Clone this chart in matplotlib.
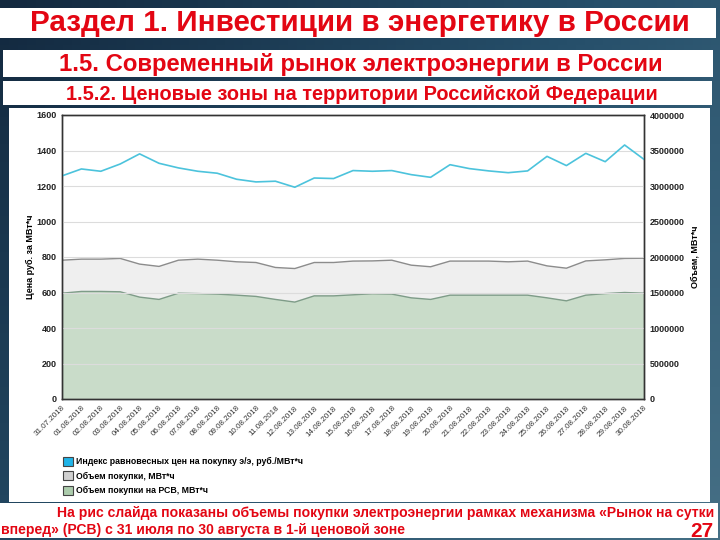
"""Slide: price zones, RSV volumes and price index, 31.07-30.08.2018"""
import numpy as np
import matplotlib
matplotlib.use("Agg")
import matplotlib.pyplot as plt
from matplotlib.patches import Rectangle, Patch
from matplotlib.colors import LinearSegmentedColormap
from matplotlib.ticker import FuncFormatter

plt.rcParams['font.family'] = ['Liberation Sans', 'DejaVu Sans']

dates = ["31.07.2018", "01.08.2018", "02.08.2018", "03.08.2018", "04.08.2018",
         "05.08.2018", "06.08.2018", "07.08.2018", "08.08.2018", "09.08.2018",
         "10.08.2018", "11.08.2018", "12.08.2018", "13.08.2018", "14.08.2018",
         "15.08.2018", "16.08.2018", "17.08.2018", "18.08.2018", "19.08.2018",
         "20.08.2018", "21.08.2018", "22.08.2018", "23.08.2018", "24.08.2018",
         "25.08.2018", "26.08.2018", "27.08.2018", "28.08.2018", "29.08.2018",
         "30.08.2018"]

# price index, rub/MWh (left axis)
price = [1257, 1296, 1283, 1324, 1381, 1328, 1302, 1283, 1272, 1238, 1223,
         1227, 1193, 1245, 1242, 1287, 1283, 1287, 1264, 1249, 1320, 1298,
         1285, 1275, 1285, 1367, 1315, 1384, 1337, 1431, 1350]

# total purchase volume, MWh (right axis)
volume_total = [1955000, 1970000, 1970000, 1980000, 1900000, 1867500, 1955000,
                1970000, 1955000, 1932500, 1922500, 1852500, 1837500, 1922500,
                1922500, 1942500, 1945000, 1955000, 1885000, 1862500, 1942500,
                1942500, 1942500, 1932500, 1942500, 1875000, 1842500, 1945000,
                1960000, 1980000, 1982500]

# purchase volume on RSV, MWh (right axis)
volume_rsv = [1490000, 1515000, 1515000, 1510000, 1435000, 1402500, 1490000,
              1485000, 1477500, 1462500, 1445000, 1402500, 1365000, 1452500,
              1452500, 1467500, 1482500, 1477500, 1425000, 1402500, 1462500,
              1462500, 1462500, 1462500, 1462500, 1425000, 1382500, 1462500,
              1485000, 1500000, 1490000]

left_ticks = [0, 200, 400, 600, 800, 1000, 1200, 1400, 1600]
right_ticks = [0, 500000, 1000000, 1500000, 2000000, 2500000, 3000000,
               3500000, 4000000]

legend_labels = ["Индекс равновесных цен на покупку э/э, руб./МВт*ч",
                 "Объем покупки, МВт*ч",
                 "Объем покупки на РСВ, МВт*ч"]

RED = '#e30613'
W, H = 720, 540


def px_rect(x0, y0, x1, y1):
    """Axes rect from pixel box (top-left origin)"""
    return [x0 / W, 1 - y1 / H, (x1 - x0) / W, (y1 - y0) / H]


fig = plt.figure(figsize=(7.2, 5.4), dpi=100)

# slide background and white bars
bg = fig.add_axes([0, 0, 1, 1])
bg.set_xlim(0, W)
bg.set_ylim(H, 0)
bg.axis('off')
cmap = LinearSegmentedColormap.from_list('slide', ['#13293f', '#264f6a', '#456f85'])
yy, xx = np.mgrid[0:1:60j, 0:1:80j]
bg.imshow(0.6 * xx + 0.4 * yy, extent=(0, W, H, 0), cmap=cmap, aspect='auto')

for box in [(0, 8, 716, 38), (3, 50, 713, 77), (3, 81, 712, 105),
            (9, 108, 710, 502), (0, 503, 718, 538)]:
    bg.add_patch(Rectangle((box[0], box[1]), box[2] - box[0], box[3] - box[1],
                           facecolor='white', edgecolor='none'))

bg.text(360, 23, "Раздел 1. Инвестиции в энергетику в России", color=RED,
        fontsize=21.3, fontweight='bold', ha='center', va='center')
bg.text(361, 64, "1.5. Современный рынок электроэнергии в России", color=RED,
        fontsize=17.2, fontweight='bold', ha='center', va='center')
bg.text(362, 94, "1.5.2. Ценовые зоны на территории Российской Федерации",
        color=RED, fontsize=14.4, fontweight='bold', ha='center', va='center')
bg.text(57, 513, "На рис слайда показаны объемы покупки электроэнергии "
        "рамках механизма «Рынок на сутки", color=RED, fontsize=10.1,
        fontweight='bold', ha='left', va='center')
bg.text(1, 530, "вперед» (РСВ) с 31 июля по 30 августа в 1-й ценовой зоне",
        color=RED, fontsize=10.1, fontweight='bold', ha='left', va='center')
bg.text(713, 537, "27", color=RED, fontsize=15, fontweight='bold',
        ha='right', va='baseline')

# chart: volumes behind, price on top
x = np.arange(len(dates))
ax2 = fig.add_axes(px_rect(62, 115, 644, 399))
ax = ax2.twinx()
ax.set_zorder(ax2.get_zorder() + 1)
ax.patch.set_visible(False)

ax2.fill_between(x, 0, volume_total, facecolor='#efefef', edgecolor='none')
ax2.plot(x, volume_total, color='#8c8c8c', lw=1)
ax2.fill_between(x, 0, volume_rsv, facecolor='#c9dcc9', edgecolor='none')
ax2.plot(x, volume_rsv, color='#7e9c88', lw=1)
ax2.set_ylim(0, 4000000)
ax2.set_yticks(right_ticks)
ax2.yaxis.tick_right()
ax2.yaxis.set_label_position('right')
ax2.yaxis.set_major_formatter(FuncFormatter(lambda v, p: '%d' % v))
ax2.set_ylabel("Объем, МВт*ч", fontsize=6.5, fontweight='bold', labelpad=4)

ax.plot(x, price, color='#4cc3dc', lw=1.2)
ax.set_ylim(0, 1600)
ax.set_yticks(left_ticks)
ax.yaxis.tick_left()
ax.yaxis.set_label_position('left')
ax.set_ylabel("Цена руб. за МВт*ч", fontsize=6.5, fontweight='bold', labelpad=1)
ax.grid(True, color='#dcdcdc', lw=0.8)

ax2.set_xlim(x[0], x[-1])
ax2.set_xticks(x)
ax2.set_xticklabels(dates, rotation=45, ha='right', rotation_mode='anchor',
                    fontsize=5.8, color='#333333')
ax.set_xticks(x)

for a in (ax, ax2):
    a.tick_params(length=0, pad=4)
    for s in a.spines.values():
        s.set_color('#333333')
        s.set_linewidth(1)
for lbl in ax.get_yticklabels() + ax2.get_yticklabels():
    lbl.set_fontsize(6.5)
    lbl.set_fontweight('bold')
    lbl.set_color('#222222')

handles = [Patch(facecolor=c, edgecolor='#444444', lw=0.8)
           for c in ['#1fb4e8', '#d0d0d0', '#acccac']]
leg = fig.legend(handles, legend_labels, loc='upper left',
                 bbox_to_anchor=(55 / W, 1 - 449 / H), frameon=False,
                 prop={'size': 6.3, 'weight': 'bold'}, handlelength=1.15,
                 handleheight=1.15, handletextpad=0.35, labelspacing=0.6)

fig.savefig("out.png", dpi=100)
